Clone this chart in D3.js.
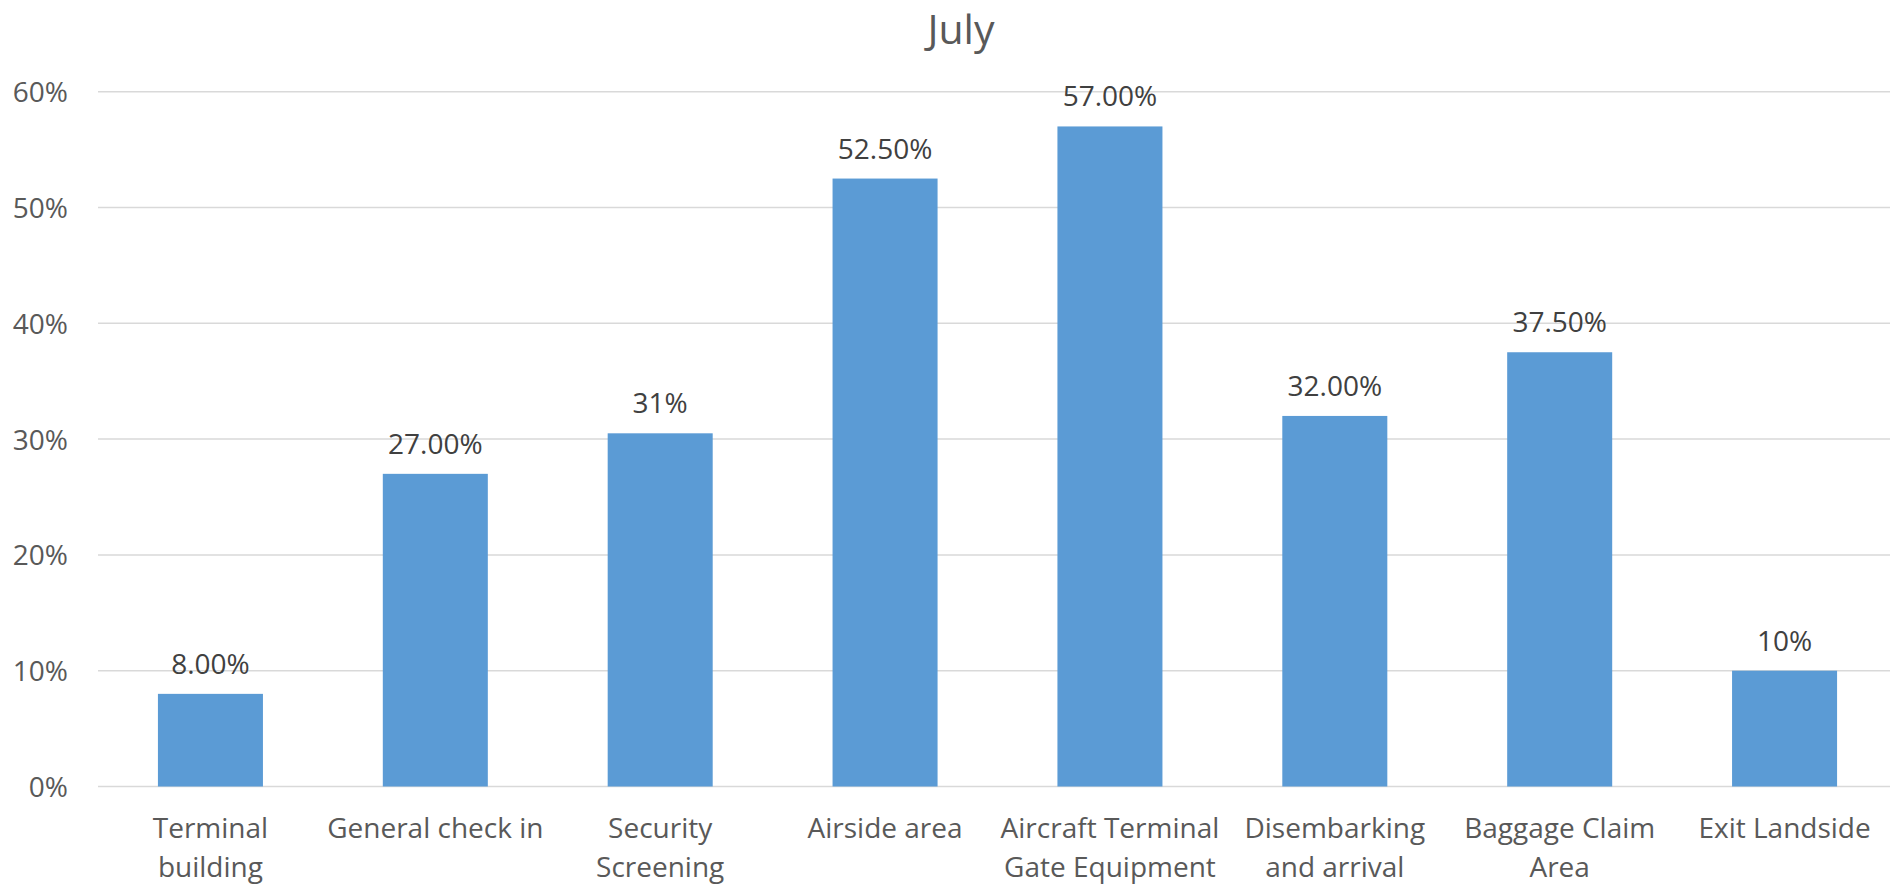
<!DOCTYPE html>
<html>
<head>
<meta charset="utf-8">
<script src="https://cdn.jsdelivr.net/npm/d3@7"></script>
<style>
  html, body { margin: 0; padding: 0; background: #ffffff; }
  svg { display: block; }
  text { font-family: "Open Sans", "Noto Sans", sans-serif; }
</style>
</head>
<body>
<svg id="chart" width="1890" height="886"></svg>
<script>
// Category names, each split into its display lines
const categories = [
  ["Terminal", "building"],
  ["General check in"],
  ["Security", "Screening"],
  ["Airside area"],
  ["Aircraft Terminal", "Gate Equipment"],
  ["Disembarking", "and arrival"],
  ["Baggage Claim", "Area"],
  ["Exit Landside"]
];
// Share of each area, in percent
const values = [8, 27, 30.5, 52.5, 57, 32, 37.5, 10];
// Decimal places used by each bar's data label
const labelDecimals = [2, 2, 0, 2, 2, 2, 2, 0];
// Value axis ticks, in percent
const yTicks = [0, 10, 20, 30, 40, 50, 60];
const title = "July";

const svg = d3.select("#chart");

const plot = { left: 98, right: 1897, top: 91.7, bottom: 786.5 };
const fontSize = 28;

const x = d3.scaleBand()
  .domain(d3.range(categories.length))
  .range([plot.left, plot.right])
  .paddingInner(0.533)
  .paddingOuter(0.2665);

const y = d3.scaleLinear()
  .domain([0, 60])
  .range([plot.bottom, plot.top]);

// Title
svg.append("text")
  .attr("x", 961)
  .attr("y", 44)
  .attr("text-anchor", "middle")
  .attr("fill", "#595959")
  .style("font-size", "41px")
  .text(title);

// Horizontal gridlines
svg.append("g")
  .selectAll("line")
  .data(yTicks)
  .join("line")
  .attr("x1", plot.left)
  .attr("x2", plot.right)
  .attr("y1", d => y(d))
  .attr("y2", d => y(d))
  .attr("stroke", "#d9d9d9")
  .attr("stroke-width", 1.5);

// Value axis labels
const yAxis = d3.axisLeft(y)
  .tickValues(yTicks)
  .tickSize(0)
  .tickPadding(0)
  .tickFormat(d => d + "%");

svg.append("g")
  .attr("transform", `translate(${68},0)`)
  .call(yAxis)
  .call(g => g.select(".domain").remove())
  .call(g => g.selectAll("text")
    .attr("fill", "#595959")
    .attr("dy", "0.36em")
    .style("font-size", fontSize + "px")
    .style("font-family", "'Open Sans', 'Noto Sans', sans-serif"));

// Bars
svg.append("g")
  .selectAll("rect")
  .data(values)
  .join("rect")
  .attr("x", (d, i) => x(i))
  .attr("width", x.bandwidth())
  .attr("y", d => y(d))
  .attr("height", d => y(0) - y(d))
  .attr("fill", "#5b9bd5");

// Data labels above the bars
svg.append("g")
  .selectAll("text")
  .data(values)
  .join("text")
  .attr("x", (d, i) => x(i) + x.bandwidth() / 2)
  .attr("y", d => y(d) - 20)
  .attr("text-anchor", "middle")
  .attr("fill", "#404040")
  .style("font-size", fontSize + "px")
  .text((d, i) => d.toFixed(labelDecimals[i]) + "%");

// Category labels, one or two lines each
const xLabels = svg.append("g")
  .selectAll("text")
  .data(categories)
  .join("text")
  .attr("x", (d, i) => x(i) + x.bandwidth() / 2)
  .attr("y", 838)
  .attr("text-anchor", "middle")
  .attr("fill", "#595959")
  .style("font-size", fontSize + "px");

xLabels.selectAll("tspan")
  .data((d, i) => d.map(line => ({ line, i })))
  .join("tspan")
  .attr("x", d => x(d.i) + x.bandwidth() / 2)
  .attr("dy", (d, j) => j === 0 ? 0 : 39)
  .text(d => d.line);
</script>
</body>
</html>
